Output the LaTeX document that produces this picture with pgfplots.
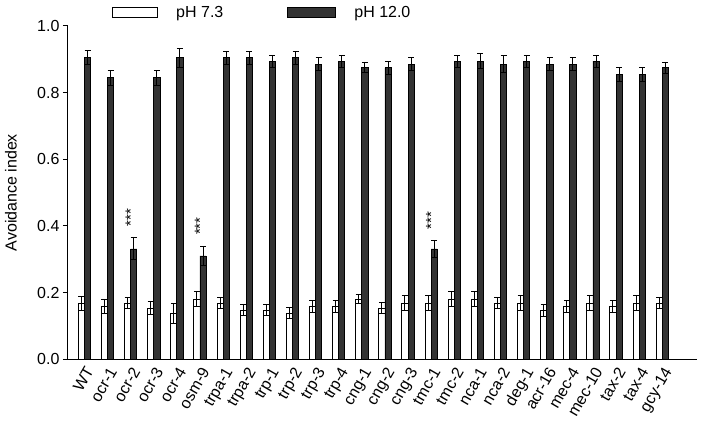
\documentclass[border=0pt]{standalone}
\usepackage{fontspec}
\setmainfont{Liberation Sans}
\usepackage{pgfplots}
\usepackage{pgfplotstable}
\pgfplotsset{compat=1.18}
\definecolor{barDark}{HTML}{333333}

% x low lowerr high higherr  (low = pH 7.3, high = pH 12.0)
\pgfplotstableread{
x low lowerr high higherr
0 0.168 0.021 0.904 0.021
1 0.158 0.022 0.844 0.022
2 0.168 0.017 0.331 0.033
3 0.153 0.019 0.844 0.022
4 0.138 0.030 0.904 0.028
5 0.180 0.023 0.310 0.028
6 0.168 0.017 0.904 0.020
7 0.148 0.017 0.904 0.020
8 0.148 0.017 0.894 0.018
9 0.138 0.017 0.904 0.020
10 0.158 0.017 0.885 0.019
11 0.158 0.017 0.894 0.018
12 0.180 0.013 0.874 0.015
13 0.153 0.017 0.874 0.020
14 0.168 0.022 0.885 0.020
15 0.168 0.022 0.331 0.025
16 0.180 0.023 0.894 0.018
17 0.180 0.023 0.894 0.023
18 0.168 0.017 0.885 0.025
19 0.168 0.022 0.894 0.018
20 0.146 0.019 0.885 0.020
21 0.158 0.017 0.885 0.020
22 0.168 0.022 0.894 0.018
23 0.158 0.017 0.855 0.021
24 0.168 0.022 0.855 0.021
25 0.168 0.017 0.874 0.016
}\data

\begin{document}
\begin{tikzpicture}
\useasboundingbox (-68pt,-68.7pt) rectangle (636pt,359.3pt);
\begin{axis}[
    at={(0,0)}, anchor=south west,
    scale only axis,
    width=629pt, height=333.5pt,
    ybar=0pt, bar width=6.2pt,
    xmin=-0.71, xmax=26.5,
    ymin=0, ymax=1,
    axis x line*=bottom, axis y line*=left,
    axis line style={-, line width=1pt},
    xtick={0,...,25},
    xticklabels={WT, ocr-1, ocr-2, ocr-3, ocr-4, osm-9, trpa-1, trpa-2, trp-1, trp-2, trp-3, trp-4, cng-1, cng-2, cng-3, tmc-1, tmc-2, nca-1, nca-2, deg-1, acr-16, mec-4, mec-10, tax-2, tax-4, gcy-14},
    x tick style={draw=none},
    xticklabel style={font=\fontsize{16}{18}\selectfont, rotate=60, anchor=north east, inner sep=1pt},
    ytick={0,0.2,0.4,0.6,0.8,1.0},
    y tick style={line width=1pt, black},
    tick align=outside, major tick length=5pt,
    yticklabel style={font=\fontsize{16}{18}\selectfont, /pgf/number format/fixed, /pgf/number format/fixed zerofill, /pgf/number format/precision=1, /pgf/number format/assume math mode=true},
    ylabel={Avoidance index},
    ylabel style={font=\fontsize{16}{18}\selectfont, at={(axis description cs:-0.0906,0.5)}, anchor=center},
    error bars/y dir=both, error bars/y explicit,
    error bars/error bar style={line width=1pt, black},
    error bars/error mark options={rotate=90, mark size=3pt, line width=1pt, black},
    legend columns=2,
    legend style={draw=none, fill=none, inner sep=0pt,
        at={(axis description cs:0.07,1.0384)}, anchor=west,
        font=\fontsize{16}{18}\selectfont,
        /tikz/every odd column/.append style={column sep=16pt},
        /tikz/every even column/.append style={column sep=62pt}},
]
\addplot[draw=black, line width=0.8pt, fill=white,
    legend image code/.code={\draw[line width=1pt, fill=white] (0pt,-5pt) rectangle (45pt,5pt);}]
    table[x=x, y=low, y error=lowerr] {\data};
\addplot[draw=black, line width=0.8pt, fill=barDark,
    legend image code/.code={\draw[line width=1pt, fill=barDark] (0pt,-5pt) rectangle (48pt,5pt);}]
    table[x=x, y=high, y error=higherr] {\data};
\legend{pH 7.3, pH 12.0}
\node[rotate=90, font=\fontsize{15}{17}\selectfont, inner sep=0pt, xshift=3.1pt] at (axis cs:2,0.415) {***};
\node[rotate=90, font=\fontsize{15}{17}\selectfont, inner sep=0pt, xshift=3.1pt] at (axis cs:5,0.39) {***};
\node[rotate=90, font=\fontsize{15}{17}\selectfont, inner sep=0pt, xshift=3.1pt] at (axis cs:15,0.406) {***};
\end{axis}
\end{tikzpicture}
\end{document}
